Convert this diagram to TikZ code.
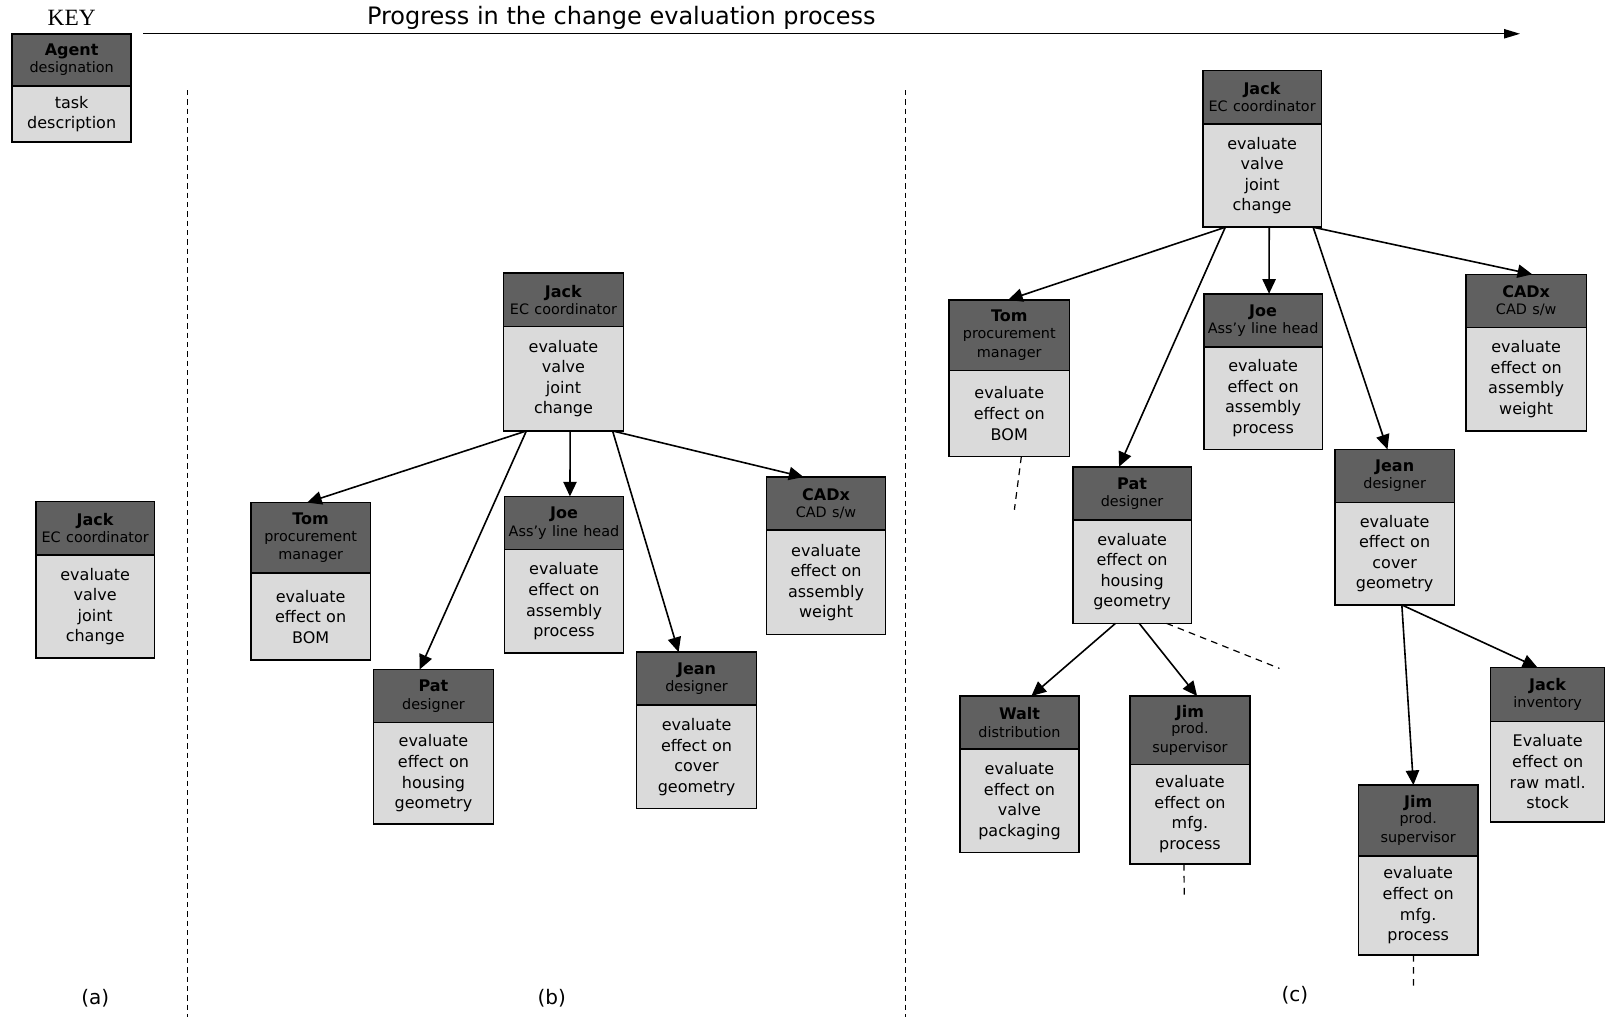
\documentclass[tikz,border=0pt]{standalone}
\usepackage{fontspec}
\setmainfont{DejaVu Sans}
\newfontfamily\keyfont{Liberation Serif}
\usetikzlibrary{arrows.meta,calc}

\definecolor{hdrgray}{HTML}{606060}
\definecolor{bodygray}{HTML}{DADADA}

\newdimen\pxu
\pxu=0.7677pt

\tikzset{
  cardhead/.style={draw=black, line width=1.2pt, fill=hdrgray, inner xsep=0pt, inner ysep=0pt,
    outer sep=0pt, align=center, anchor=north west, font=\fontsize{12}{14}\selectfont},
  cardbody/.style={draw=black, line width=1.2pt, fill=bodygray, inner xsep=0pt, inner ysep=0pt,
    outer sep=0pt, align=center, anchor=north west, font=\fontsize{12}{15.4}\selectfont},
  conn/.style={line width=1.2pt, -{Triangle[length=11pt,width=10pt]}},
  stub/.style={line width=0.9pt, dash pattern=on 5pt off 4pt},
  divider/.style={line width=0.8pt, dash pattern=on 4pt off 3pt},
  caption/.style={font=\fontsize{15}{18}\selectfont},
}

% card: id, left, top, width, header height, body height, agent, role, task
\newcommand\agentcard[9]{%
  \node[cardhead, text width=#4\pxu, minimum height=#5\pxu] (#1h) at (#2,#3)
    {\textbf{#7}\\[-1pt]{\fontsize{10.8}{13.5}\selectfont #8}};
  \node[cardbody, text width=#4\pxu, minimum height=#6\pxu] (#1b) at (#1h.south west) {#9};
}

\begin{document}
\begin{tikzpicture}[x=0.7677pt, y=-0.7677pt]
\useasboundingbox (0,0) rectangle (1568,994);

% progress arrow and key
\node[font=\keyfont\fontsize{17.5}{20}\selectfont] (keylabel) at (70,17) {KEY};
\node[font=\fontsize{18}{21}\selectfont] (title) at (607,17) {Progress in the change evaluation process};
\coordinate (pstart) at (140,33);
\coordinate (pend) at (1485,33);
\draw[line width=0.9pt, -{Triangle[length=12pt,width=7pt]}] (pstart) -- (pend);

\agentcard{key}{12}{33}{116}{51}{55}{Agent}{designation}{task\\description}

% phase dividers
\coordinate (d1t) at (183,88); \coordinate (d1b) at (183,994);
\coordinate (d2t) at (885,88); \coordinate (d2b) at (885,994);
\draw[divider] (d1t) -- (d1b);
\draw[divider] (d2t) -- (d2b);

% (a)
\agentcard{aj}{35}{490}{116}{52}{101}{Jack}{EC coordinator}{evaluate\\valve\\joint\\change}

% (b)
\agentcard{bjack}{492}{267}{117}{52}{102}{Jack}{EC coordinator}{evaluate\\valve\\joint\\change}
\agentcard{btom}{245}{491}{117}{69}{85}{Tom}{procurement\\manager}{evaluate\\effect on\\BOM}
\agentcard{bjoe}{493}{485}{116}{52}{101}{Joe}{Ass'y line head}{evaluate\\effect on\\assembly\\process}
\agentcard{bcad}{749}{466}{116}{52}{102}{CADx}{CAD s/w}{evaluate\\effect on\\assembly\\weight}
\agentcard{bpat}{365}{654}{117}{52}{99}{Pat}{designer}{evaluate\\effect on\\housing\\geometry}
\agentcard{bjean}{622}{637}{117}{52}{101}{Jean}{designer}{evaluate\\effect on\\cover\\geometry}

\draw[conn] ($(bjackb.south west)!0.19!(bjackb.south east)$) -- ($(btomh.north west)!0.47!(btomh.north east)$);
\draw[conn] ($(bjackb.south west)!0.19!(bjackb.south east)$) -- ($(bpath.north west)!0.385!(bpath.north east)$);
\draw[conn] ($(bjackb.south west)!0.556!(bjackb.south east)$) -- ($(bjoeh.north west)!0.55!(bjoeh.north east)$);
\draw[conn] ($(bjackb.south west)!0.91!(bjackb.south east)$) -- ($(bjeanh.north west)!0.35!(bjeanh.north east)$);
\draw[conn] ($(bjackb.south west)!0.91!(bjackb.south east)$) -- ($(bcadh.north west)!0.31!(bcadh.north east)$);

% (c)
\agentcard{cjack}{1175}{69}{116}{52}{101}{Jack}{EC coordinator}{evaluate\\valve\\joint\\change}
\agentcard{ctom}{927}{293}{118}{69}{84}{Tom}{procurement\\manager}{evaluate\\effect on\\BOM}
\agentcard{cjoe}{1176}{287}{116}{52}{100}{Joe}{Ass'y line head}{evaluate\\effect on\\assembly\\process}
\agentcard{ccad}{1432}{268}{118}{52}{101}{CADx}{CAD s/w}{evaluate\\effect on\\assembly\\weight}
\agentcard{cpat}{1048}{456}{116}{52}{101}{Pat}{designer}{evaluate\\effect on\\housing\\geometry}
\agentcard{cjean}{1304}{439}{117}{52}{100}{Jean}{designer}{evaluate\\effect on\\cover\\geometry}
\agentcard{cwalt}{938}{680}{116}{52}{101}{Walt}{distribution}{evaluate\\effect on\\valve\\packaging}
\agentcard{cjim}{1104}{680}{117}{67}{97}{Jim}{prod.\\supervisor}{evaluate\\effect on\\mfg.\\process}
\agentcard{cjimb}{1327}{767}{117}{69}{97}{Jim}{prod.\\supervisor}{evaluate\\effect on\\mfg.\\process}
\agentcard{cjackb}{1456}{652}{112}{53}{98}{Jack}{inventory}{Evaluate\\effect on\\raw matl.\\stock}

\draw[conn] ($(cjackb.south west)!0.19!(cjackb.south east)$) -- ($(ctomh.north west)!0.49!(ctomh.north east)$);
\draw[conn] ($(cjackb.south west)!0.19!(cjackb.south east)$) -- ($(cpath.north west)!0.39!(cpath.north east)$);
\draw[conn] ($(cjackb.south west)!0.56!(cjackb.south east)$) -- ($(cjoeh.north west)!0.55!(cjoeh.north east)$);
\draw[conn] ($(cjackb.south west)!0.93!(cjackb.south east)$) -- ($(cjeanh.north west)!0.44!(cjeanh.north east)$);
\draw[conn] ($(cjackb.south west)!0.93!(cjackb.south east)$) -- ($(ccadh.north west)!0.55!(ccadh.north east)$);

\draw[conn] ($(cpatb.south west)!0.36!(cpatb.south east)$) -- ($(cwalth.north west)!0.6!(cwalth.north east)$);
\draw[conn] ($(cpatb.south west)!0.56!(cpatb.south east)$) -- ($(cjimh.north west)!0.56!(cjimh.north east)$);
\coordinate (patmore) at (1250,653);
\draw[stub] ($(cpatb.south west)!0.79!(cpatb.south east)$) -- (patmore);

\draw[conn] ($(cjeanb.south west)!0.56!(cjeanb.south east)$) -- ($(cjimbh.north west)!0.46!(cjimbh.north east)$);
\draw[conn] ($(cjeanb.south west)!0.56!(cjeanb.south east)$) -- ($(cjackbh.north west)!0.41!(cjackbh.north east)$);

\coordinate (tommore) at (991,498);
\coordinate (jimmore) at (1157,878);
\coordinate (jimbmore) at (1381,965);
\draw[stub] ($(ctomb.south west)!0.6!(ctomb.south east)$) -- (tommore);
\draw[stub] ($(cjimb.south west)!0.45!(cjimb.south east)$) -- (jimmore);
\draw[stub] ($(cjimbb.south west)!0.46!(cjimbb.south east)$) -- (jimbmore);

% phase captions
\node[caption] (capa) at (93,975) {(a)};
\node[caption] (capb) at (539,975) {(b)};
\node[caption] (capc) at (1265,972) {(c)};
\end{tikzpicture}
\end{document}
